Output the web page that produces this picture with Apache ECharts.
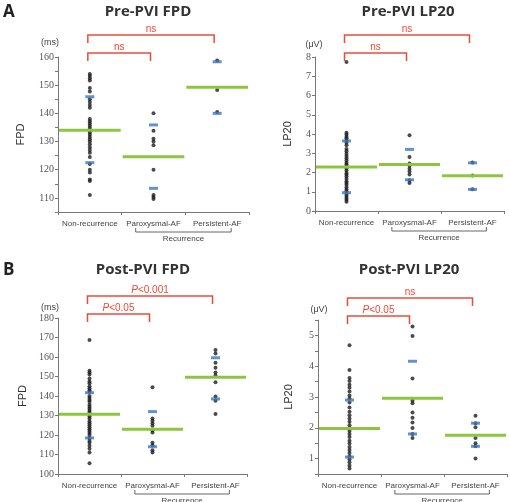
<!DOCTYPE html>
<html>
<head>
<meta charset="utf-8">
<script src="https://cdn.jsdelivr.net/npm/echarts@6/dist/echarts.min.js"></script>
<style>
  html, body { margin: 0; padding: 0; background: #fff; }
  #main { width: 510px; height: 502px; }
</style>
</head>
<body>
<div id="main"></div>
<script>
var groups = ['Non-recurrence', 'Paroxysmal-AF', 'Persistent-AF'];

// A: Pre-PVI FPD (ms)
var preFpdNon = [154, 153.3, 152.5, 151.7, 149, 147.8, 145, 144, 143, 142, 138, 137.2, 136.4, 135.6, 134.8, 134, 133.2, 132.4, 131.6, 130.8, 130, 129, 128, 127, 126, 124.5, 122, 120, 119, 116.5, 116, 111];
var preFpdParox = [140, 133.8, 131, 130, 128.7, 120, 111, 110.3, 109.6];
var preFpdPers = [158.8, 148.3, 140.5];
var preFpdMean = [134, 124.6, 149.3];
var preFpdSdHi = [145.9, 135.9, 158.3];
var preFpdSdLo = [122.5, 113.4, 140];

// A: Pre-PVI LP20 (uV)
var preLpNon = [7.74, 4.06, 3.97, 3.86, 3.78, 3.66, 3.55, 3.42, 3.22, 3.1, 2.97, 2.86, 2.74, 2.62, 2.51, 2.42, 2.33, 2.21, 2.1, 1.98, 1.9, 1.79, 1.68, 1.55, 1.45, 1.36, 1.24, 1.12, 1.02, 0.88, 0.78, 0.68, 0.58, 0.48];
var preLpParox = [3.94, 2.81, 2.47, 2.35, 2.2, 2.05, 1.9, 1.6, 1.45];
var preLpPers = [2.52, 1.85, 1.13];
var preLpMean = [2.28, 2.42, 1.83];
var preLpSdHi = [3.64, 3.2, 2.5];
var preLpSdLo = [0.95, 1.62, 1.12];

// B: Post-PVI FPD (ms)
var postFpdNon = [168.7, 153, 152, 151, 149, 147.5, 146.5, 145, 144, 143, 142, 140, 139, 138, 137, 135.5, 134.5, 133.5, 132.5, 131.5, 130.5, 129.5, 128.5, 127, 126, 125, 124, 123, 122, 121, 120, 118.5, 117, 116, 114.5, 113, 111, 105.5];
var postFpdParox = [144.5, 128.5, 127.3, 126, 124.8, 122.5, 121.3, 116, 114.8, 112.2, 111];
var postFpdPers = [163.6, 161.8, 157, 154.5, 152, 150.5, 147, 139.8, 137.6, 130.8];
var postFpdMean = [130.6, 122.9, 149.6];
var postFpdSdHi = [141.7, 132, 159.6];
var postFpdSdLo = [118.5, 114, 138.5];

// B: Post-PVI LP20 (uV)
var postLpNon = [4.68, 3.88, 3.62, 3.52, 3.4, 3.3, 3.18, 3.05, 2.95, 2.82, 2.66, 2.52, 2.41, 2.3, 2.2, 2.08, 1.98, 1.9, 1.8, 1.7, 1.58, 1.49, 1.38, 1.28, 1.18, 1.08, 0.98, 0.88, 0.78, 0.68];
var postLpParox = [5.29, 4.98, 3.6, 2.88, 2.8, 2.5, 2.33, 2.17, 1.99, 1.8, 1.67];
var postLpPers = [2.39, 2.15, 2.02, 1.67, 1.5, 1.4, 1.0];
var postLpMean = [1.98, 2.96, 1.76];
var postLpSdHi = [2.9, 4.16, 2.15];
var postLpSdLo = [1.05, 1.8, 1.4];

// significance brackets: [from group, to group, level], text
var preFpdTests = [[0, 1, 0], [0, 2, 1]];
var preFpdTestText = ['ns', 'ns'];
var preLpTests = [[0, 1, 0], [0, 2, 1]];
var preLpTestText = ['ns', 'ns'];
var postFpdTests = [[0, 1, 0], [0, 2, 1]];
var postFpdTestText = ['{i|P}<0.05', '{i|P}<0.001'];
var postLpTests = [[0, 1, 0], [0, 2, 1]];
var postLpTestText = ['{i|P}<0.05', 'ns'];

var RED = '#ea4c3a';
var GREEN = '#8cc63f';
var BLUE = '#3b78c0';
var DOT = '#1e1e1e';

function toPoints(lists) {
  var out = [];
  lists.forEach(function (vals, i) {
    vals.forEach(function (v) { out.push([i, v]); });
  });
  return out;
}

function indexed(vals) {
  return vals.map(function (v, i) { return [i, v]; });
}

var panels = [
  { grid: { left: 58, top: 57, width: 191, height: 155 }, min: 105, max: 160, interval: 5, step: 10, name: 'FPD', gap: 32,
    dots: [preFpdNon, preFpdParox, preFpdPers], mean: preFpdMean, hi: preFpdSdHi, lo: preFpdSdLo, tests: preFpdTests, texts: preFpdTestText },
  { grid: { left: 315, top: 57, width: 189, height: 154 }, min: 0, max: 8, interval: 1, step: 1, name: 'LP20', gap: 22,
    dots: [preLpNon, preLpParox, preLpPers], mean: preLpMean, hi: preLpSdHi, lo: preLpSdLo, tests: preLpTests, texts: preLpTestText },
  { grid: { left: 58, top: 318, width: 189, height: 156 }, min: 100, max: 180, interval: 10, step: 10, name: 'FPD', gap: 30,
    dots: [postFpdNon, postFpdParox, postFpdPers], mean: postFpdMean, hi: postFpdSdHi, lo: postFpdSdLo, tests: postFpdTests, texts: postFpdTestText },
  { grid: { left: 318, top: 320, width: 189, height: 154 }, min: 0.5, max: 5.5, interval: 0.5, step: 1, name: 'LP20', gap: 24,
    dots: [postLpNon, postLpParox, postLpPers], mean: postLpMean, hi: postLpSdHi, lo: postLpSdLo, tests: postLpTests, texts: postLpTestText }
];

var grids = [], xAxes = [], yAxes = [], series = [];

panels.forEach(function (p, k) {
  grids.push(p.grid);
  xAxes.push({
    type: 'category', gridIndex: k, data: groups, boundaryGap: true,
    axisLine: { lineStyle: { color: '#777', width: 1 } },
    axisTick: { show: true, length: 3, lineStyle: { color: '#777' } },
    axisLabel: { color: '#444', fontSize: 8, fontFamily: 'Liberation Sans', margin: 8, interval: 0 }
  });
  yAxes.push({
    type: 'value', gridIndex: k, min: p.min, max: p.max, interval: p.interval,
    name: p.name, nameLocation: 'middle', nameGap: p.gap,
    nameTextStyle: { color: '#333', fontSize: 11, fontFamily: 'Liberation Sans' },
    splitLine: { show: false },
    axisLine: { show: true, lineStyle: { color: '#777', width: 1 } },
    axisTick: { show: true, length: 3, lineStyle: { color: '#777' } },
    axisLabel: {
      color: '#555', fontSize: 10, fontFamily: 'Liberation Sans Narrow', margin: 4,
      formatter: function (v) {
        var r = Math.round(v / p.step) * p.step;
        return Math.abs(r - v) < 1e-6 ? String(r) : '';
      }
    }
  });

  // individual patients
  series.push({
    type: 'scatter', xAxisIndex: k, yAxisIndex: k, symbol: 'circle', symbolSize: 4,
    itemStyle: { color: DOT }, data: toPoints(p.dots), z: 3, silent: true
  });
  // mean
  series.push({
    type: 'custom', xAxisIndex: k, yAxisIndex: k, data: indexed(p.mean), z: 4, silent: true,
    renderItem: function (params, api) {
      var c = api.coord([api.value(0), api.value(1)]);
      var w = api.size([1, 0])[0];
      return { type: 'line', shape: { x1: c[0] - w / 2 + 1, y1: c[1], x2: c[0] + w / 2 - 1, y2: c[1] },
        style: { stroke: GREEN, lineWidth: 3 } };
    }
  });
  // SD marks
  series.push({
    type: 'scatter', xAxisIndex: k, yAxisIndex: k, symbol: 'rect', symbolSize: [9, 3],
    itemStyle: { color: BLUE }, data: indexed(p.hi).concat(indexed(p.lo)), z: 5, silent: true
  });
  // significance brackets
  series.push({
    type: 'custom', xAxisIndex: k, yAxisIndex: k, data: p.tests, z: 6, silent: true,
    renderItem: function (params, api) {
      var a = api.coord([api.value(0), p.max]);
      var b = api.coord([api.value(1), p.max]);
      var y = a[1] - 4 - api.value(2) * 18;
      var x1 = a[0] - 2, x2 = b[0] - 3;
      return { type: 'group', children: [
        { type: 'polyline', shape: { points: [[x1, y + 8], [x1, y], [x2, y], [x2, y + 8]] },
          style: { stroke: RED, lineWidth: 1.5, fill: null } },
        { type: 'text', x: (x1 + x2) / 2, y: y - 1,
          style: { text: p.texts[params.dataIndex], fill: RED, fontSize: 10, fontFamily: 'Liberation Sans',
            align: 'center', verticalAlign: 'bottom',
            rich: { i: { fontStyle: 'italic', fill: RED, fontSize: 10, fontFamily: 'Liberation Sans' } } } }
      ] };
    }
  });
  // "Recurrence" grouping under the two AF groups
  series.push({
    type: 'custom', xAxisIndex: k, yAxisIndex: k, data: [[1, 2]], z: 6, silent: true,
    renderItem: function (params, api) {
      var a = api.coord([api.value(0), p.min]);
      var b = api.coord([api.value(1), p.min]);
      var w = api.size([1, 0])[0];
      var x1 = a[0] - 0.28 * w, x2 = b[0] + 0.22 * w, y = a[1] + 20;
      return { type: 'group', children: [
        { type: 'polyline', shape: { points: [[x1, y - 4], [x1, y], [x2, y], [x2, y - 4]] },
          style: { stroke: '#666', lineWidth: 1, fill: null } },
        { type: 'text', x: (x1 + x2) / 2, y: y + 3,
          style: { text: 'Recurrence', fill: '#444', fontSize: 8, fontFamily: 'Liberation Sans', align: 'center', verticalAlign: 'top' } }
      ] };
    }
  });
});

function label(text, x, y, size, opts) {
  opts = opts || {};
  return { type: 'text', x: x, y: y, silent: true,
    style: { text: text, fill: opts.color || '#333', fontSize: size, fontWeight: opts.weight || 'normal',
      fontFamily: opts.family || 'Open Sans', align: opts.align || 'center', verticalAlign: 'middle' } };
}

var myChart = echarts.init(document.getElementById('main'), null, { renderer: 'canvas' });
myChart.setOption({
  animation: false,
  backgroundColor: '#fff',
  grid: grids,
  xAxis: xAxes,
  yAxis: yAxes,
  series: series,
  graphic: [
    label('A', 3, 12, 17, { weight: 'bold', align: 'left', color: '#222' }),
    label('B', 3, 270, 17, { weight: 'bold', align: 'left', color: '#222' }),
    label('Pre-PVI FPD', 148, 12, 15, { weight: 'bold' }),
    label('Pre-PVI LP20', 408, 12, 15, { weight: 'bold' }),
    label('Post-PVI FPD', 143, 270, 15, { weight: 'bold' }),
    label('Post-PVI LP20', 409, 270, 15, { weight: 'bold' }),
    label('(ms)', 50, 43, 9, { family: 'Liberation Sans', color: '#444' }),
    label('(μV)', 314, 45, 9, { family: 'Liberation Sans', color: '#444' }),
    label('(ms)', 50, 308, 9, { family: 'Liberation Sans', color: '#444' }),
    label('(μV)', 319, 310, 9, { family: 'Liberation Sans', color: '#444' })
  ]
});
</script>
</body>
</html>
